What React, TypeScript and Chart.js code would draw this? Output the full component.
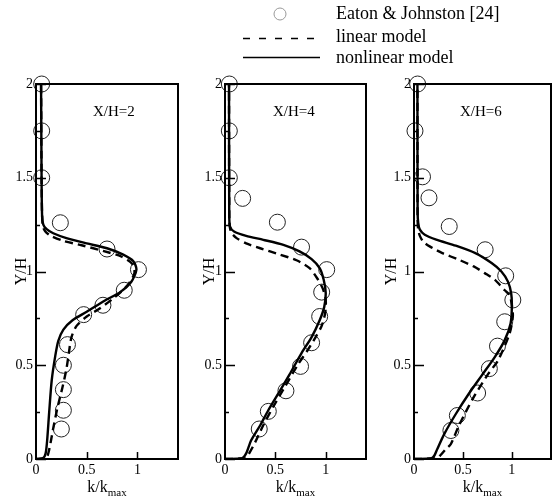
import React, { useEffect, useRef } from "react";
import { Chart, registerables } from "chart.js";

Chart.register(...registerables);

const FONT = "'Liberation Serif', 'Times New Roman', serif";

// Axes
const X_TICKS = [0, 0.5, 1];
const Y_TICKS = [0, 0.5, 1, 1.5, 2];
const Y_MINOR_TICKS = [0.25, 0.75, 1.25, 1.75];
const X_MIN = 0;
const X_MAX = 1.4;
const Y_MIN = 0;
const Y_MAX = 2;

const STATIONS = ["X/H=2", "X/H=4", "X/H=6"];
const LEGEND_LABELS = ["Eaton & Johnston [24]", "linear model", "nonlinear model"];

// X/H = 2 : experiment, linear model, nonlinear model (k/kmax vs Y/H)
const EXP2_K = [0.056, 0.056, 0.056, 0.24, 0.7, 1.01, 0.87, 0.66, 0.47, 0.31, 0.27, 0.27, 0.27, 0.25];
const EXP2_Y = [2.0, 1.75, 1.5, 1.26, 1.12, 1.01, 0.9, 0.82, 0.77, 0.61, 0.5, 0.37, 0.26, 0.16];
const LIN2_K = [0, 0.1, 0.13, 0.165, 0.21, 0.26, 0.3, 0.325, 0.35, 0.4, 0.5, 0.62, 0.77, 0.9, 0.97, 0.95, 0.84, 0.66, 0.45, 0.26, 0.14, 0.09, 0.068, 0.06, 0.055, 0.05];
const LIN2_Y = [0, 0.005, 0.05, 0.15, 0.27, 0.38, 0.48, 0.57, 0.65, 0.71, 0.76, 0.8, 0.86, 0.925, 0.99, 1.04, 1.08, 1.11, 1.14, 1.165, 1.192, 1.215, 1.24, 1.3, 1.5, 2.0];
const NL2_K = [0, 0.07, 0.095, 0.11, 0.13, 0.155, 0.19, 0.22, 0.27, 0.36, 0.5, 0.68, 0.83, 0.94, 0.99, 0.96, 0.86, 0.7, 0.5, 0.3, 0.17, 0.105, 0.072, 0.06, 0.055, 0.05];
const NL2_Y = [0, 0.005, 0.03, 0.1, 0.25, 0.42, 0.55, 0.63, 0.69, 0.74, 0.785, 0.845, 0.89, 0.945, 1.01, 1.055, 1.09, 1.124, 1.15, 1.178, 1.204, 1.226, 1.25, 1.3, 1.5, 2.0];

// X/H = 4
const EXP4_K = [0.043, 0.043, 0.043, 0.175, 0.52, 0.76, 1.01, 0.96, 0.94, 0.86, 0.75, 0.605, 0.43, 0.34];
const EXP4_Y = [2.0, 1.75, 1.5, 1.39, 1.263, 1.13, 1.01, 0.89, 0.76, 0.62, 0.494, 0.364, 0.254, 0.16];
const LIN4_K = [0, 0.2, 0.24, 0.3, 0.38, 0.48, 0.6, 0.72, 0.82, 0.9, 0.96, 0.995, 1.0, 0.97, 0.92, 0.84, 0.71, 0.545, 0.35, 0.21, 0.115, 0.066, 0.05, 0.043, 0.04];
const LIN4_Y = [0, 0.004, 0.03, 0.09, 0.18, 0.28, 0.39, 0.5, 0.58, 0.65, 0.71, 0.78, 0.85, 0.91, 0.96, 1.018, 1.06, 1.09, 1.124, 1.15, 1.178, 1.204, 1.23, 1.27, 2.0];
const NL4_K = [0, 0.17, 0.21, 0.26, 0.35, 0.43, 0.53, 0.64, 0.76, 0.86, 0.94, 0.985, 1.0, 0.98, 0.94, 0.86, 0.74, 0.58, 0.38, 0.21, 0.09, 0.05, 0.042, 0.04];
const NL4_Y = [0, 0.004, 0.03, 0.1, 0.18, 0.26, 0.35, 0.45, 0.565, 0.65, 0.74, 0.81, 0.885, 0.956, 1.018, 1.066, 1.107, 1.142, 1.169, 1.19, 1.213, 1.24, 1.3, 2.0];

// X/H = 6
const EXP6_K = [0.037, 0.01, 0.087, 0.153, 0.36, 0.727, 0.937, 1.01, 0.927, 0.853, 0.77, 0.65, 0.443, 0.377];
const EXP6_Y = [2.0, 1.75, 1.505, 1.393, 1.24, 1.116, 0.977, 0.848, 0.732, 0.602, 0.482, 0.352, 0.232, 0.152];
const LIN6_K = [0, 0.23, 0.27, 0.32, 0.377, 0.46, 0.61, 0.76, 0.86, 0.977, 1.01, 1.0, 0.977, 0.927, 0.827, 0.727, 0.61, 0.46, 0.29, 0.16, 0.093, 0.06, 0.043, 0.037, 0.035];
const LIN6_Y = [0, 0.004, 0.02, 0.05, 0.08, 0.18, 0.33, 0.455, 0.527, 0.67, 0.76, 0.82, 0.875, 0.9, 0.955, 0.99, 1.027, 1.0625, 1.098, 1.134, 1.16, 1.19, 1.223, 1.28, 2.0];
const NL6_K = [0, 0.18, 0.21, 0.235, 0.31, 0.427, 0.56, 0.693, 0.827, 0.927, 0.987, 1.0, 0.993, 0.96, 0.893, 0.793, 0.627, 0.427, 0.227, 0.11, 0.06, 0.043, 0.037, 0.035];
const NL6_Y = [0, 0.004, 0.02, 0.05, 0.134, 0.24, 0.348, 0.446, 0.545, 0.634, 0.723, 0.8125, 0.884, 0.946, 1.0, 1.045, 1.098, 1.1375, 1.17, 1.196, 1.223, 1.259, 1.32, 2.0];

type Pair = { k: number[]; y: number[] };
const PANELS: { station: string; exp: Pair; lin: Pair; nl: Pair }[] = [
  { station: STATIONS[0], exp: { k: EXP2_K, y: EXP2_Y }, lin: { k: LIN2_K, y: LIN2_Y }, nl: { k: NL2_K, y: NL2_Y } },
  { station: STATIONS[1], exp: { k: EXP4_K, y: EXP4_Y }, lin: { k: LIN4_K, y: LIN4_Y }, nl: { k: NL4_K, y: NL4_Y } },
  { station: STATIONS[2], exp: { k: EXP6_K, y: EXP6_Y }, lin: { k: LIN6_K, y: LIN6_Y }, nl: { k: NL6_K, y: NL6_Y } },
];

// Page geometry
const W = 560;
const H = 499;
const FRAME_LEFT = [36, 225, 414];
const FRAME_RIGHT = [178, 366, 556];
const FRAME_TOP = 84;
const FRAME_BOTTOM = 459;
const Y_AXIS_W = 36;
const Y_TITLE_PAD = [12, 11, 4];
const STATION_LEFT = [93, 273, 460];

const toPoints = (p: Pair) => p.k.map((k, i) => ({ x: k, y: p.y[i] }));

function decorations(idx: number) {
  return {
    id: "panelDecor" + idx,
    afterDatasetsDraw(chart: any) {
      const { ctx, chartArea: a, scales } = chart;
      const xs = scales.x;
      const ys = scales.y;
      ctx.save();
      ctx.strokeStyle = "#000";
      ctx.lineWidth = 2;
      ctx.strokeRect(a.left, a.top, a.right - a.left, a.bottom - a.top);

      // inward tick marks
      ctx.lineWidth = 1.5;
      ctx.beginPath();
      Y_TICKS.forEach((v) => {
        const py = Math.round(ys.getPixelForValue(v)) + 0.5;
        ctx.moveTo(a.left, py);
        ctx.lineTo(a.left + 10, py);
      });
      Y_MINOR_TICKS.forEach((v) => {
        const py = Math.round(ys.getPixelForValue(v)) + 0.5;
        ctx.moveTo(a.left, py);
        ctx.lineTo(a.left + 4, py);
      });
      X_TICKS.filter((v) => v > X_MIN).forEach((v) => {
        const px = Math.round(xs.getPixelForValue(v)) + 0.5;
        ctx.moveTo(px, a.bottom);
        ctx.lineTo(px, a.bottom - 7);
      });
      ctx.stroke();
      ctx.restore();
    },
    afterDraw(chart: any) {
      const { ctx, chartArea: a } = chart;
      ctx.save();
      ctx.fillStyle = "#000";

      // station label
      ctx.font = `15px ${FONT}`;
      ctx.textAlign = "left";
      ctx.textBaseline = "middle";
      ctx.fillText(PANELS[idx].station, STATION_LEFT[idx], 112);

      // x axis title k/k_max
      ctx.textBaseline = "alphabetic";
      ctx.font = `16px ${FONT}`;
      const main = "k/k";
      const w1 = ctx.measureText(main).width;
      ctx.font = `11px ${FONT}`;
      const w2 = ctx.measureText("max").width;
      const cx = (a.left + a.right) / 2;
      const x0 = cx - (w1 + w2) / 2;
      ctx.font = `16px ${FONT}`;
      ctx.fillText(main, x0, 492);
      ctx.font = `11px ${FONT}`;
      ctx.fillText("max", x0 + w1, 496);

      if (idx === 0) {
        // legend
        ctx.strokeStyle = "#999";
        ctx.lineWidth = 1;
        ctx.beginPath();
        ctx.arc(280, 14, 6, 0, Math.PI * 2);
        ctx.stroke();

        ctx.strokeStyle = "#000";
        ctx.lineWidth = 1.5;
        ctx.setLineDash([7, 9]);
        ctx.beginPath();
        ctx.moveTo(243, 38.5);
        ctx.lineTo(320, 38.5);
        ctx.stroke();
        ctx.setLineDash([]);
        ctx.beginPath();
        ctx.moveTo(243, 57.5);
        ctx.lineTo(320, 57.5);
        ctx.stroke();

        ctx.font = `18px ${FONT}`;
        ctx.fillText(LEGEND_LABELS[0], 336, 19);
        ctx.fillText(LEGEND_LABELS[1], 336, 42);
        ctx.fillText(LEGEND_LABELS[2], 336, 63);
      }
      ctx.restore();
    },
  };
}

function buildConfig(idx: number): any {
  const p = PANELS[idx];
  return {
    type: "line",
    data: {
      datasets: [
        {
          label: LEGEND_LABELS[2],
          data: toPoints(p.nl),
          borderColor: "#000",
          borderWidth: 2.4,
          pointRadius: 0,
          tension: 0.25,
          fill: false,
        },
        {
          label: LEGEND_LABELS[1],
          data: toPoints(p.lin),
          borderColor: "#000",
          borderWidth: 2.4,
          borderDash: [8, 5],
          pointRadius: 0,
          tension: 0.25,
          fill: false,
        },
        {
          type: "scatter",
          label: LEGEND_LABELS[0],
          data: toPoints(p.exp),
          showLine: false,
          pointStyle: "circle",
          pointRadius: 8,
          pointBorderWidth: 1,
          pointBorderColor: "#222",
          pointBackgroundColor: "rgba(0,0,0,0)",
          clip: false,
        },
      ],
    },
    options: {
      responsive: false,
      animation: false,
      events: [],
      layout: {
        padding: {
          left: FRAME_LEFT[idx] - Y_AXIS_W,
          right: W - FRAME_RIGHT[idx],
          top: FRAME_TOP,
          bottom: 0,
        },
      },
      plugins: { legend: { display: false }, tooltip: { enabled: false } },
      scales: {
        x: {
          type: "linear",
          min: X_MIN,
          max: X_MAX,
          afterBuildTicks: (s: any) => {
            s.ticks = X_TICKS.map((v) => ({ value: v }));
          },
          afterFit: (s: any) => {
            s.height = H - FRAME_BOTTOM;
          },
          grid: { display: false, drawTicks: false },
          border: { display: false },
          ticks: {
            color: "#000",
            font: { size: 14, family: FONT },
            padding: 3,
            maxRotation: 0,
            autoSkip: false,
            callback: (v: number) => String(v),
          },
        },
        y: {
          type: "linear",
          min: Y_MIN,
          max: Y_MAX,
          afterBuildTicks: (s: any) => {
            s.ticks = Y_TICKS.map((v) => ({ value: v }));
          },
          afterFit: (s: any) => {
            s.width = Y_AXIS_W;
          },
          grid: { display: false, drawTicks: false },
          border: { display: false },
          ticks: {
            color: "#000",
            font: { size: 14, family: FONT },
            padding: 3,
            autoSkip: false,
            callback: (v: number) => String(v),
          },
          title: {
            display: true,
            text: "Y/H",
            color: "#000",
            font: { size: 16, family: FONT },
            padding: { top: Y_TITLE_PAD[idx], bottom: 0 },
          },
        },
      },
    },
    plugins: [decorations(idx)],
  };
}

function Panel({ idx }: { idx: number }) {
  const ref = useRef<HTMLCanvasElement>(null);
  useEffect(() => {
    if (!ref.current) return;
    const chart = new Chart(ref.current, buildConfig(idx));
    return () => chart.destroy();
  }, [idx]);
  return (
    <canvas
      ref={ref}
      width={W}
      height={H}
      style={{ position: "absolute", left: 0, top: 0, width: W, height: H }}
    />
  );
}

export default function App() {
  return (
    <div style={{ position: "absolute", left: 0, top: 0, width: W, height: H, background: "#fff" }}>
      {PANELS.map((_, i) => (
        <Panel key={i} idx={i} />
      ))}
    </div>
  );
}
